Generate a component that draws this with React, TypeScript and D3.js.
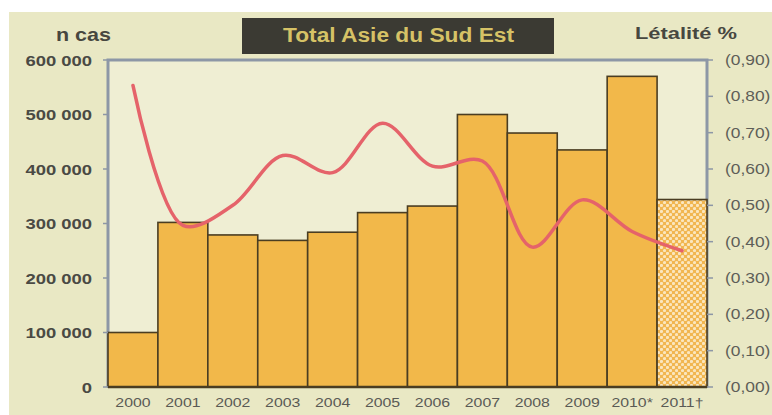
import React, { useEffect, useRef } from 'react';
import * as d3 from 'd3';

// data
const years = ['2000', '2001', '2002', '2003', '2004', '2005', '2006', '2007', '2008', '2009', '2010*', '2011†'];
const cases = [100000, 302000, 279000, 269000, 284000, 320000, 332000, 500000, 466000, 435000, 570000, 344000];
const lethality = [0.83, 0.445, 0.5, 0.637, 0.59, 0.726, 0.608, 0.622, 0.385, 0.515, 0.428, 0.375];
const caseTicks = [0, 100000, 200000, 300000, 400000, 500000, 600000];
const letTicks = [0, 0.1, 0.2, 0.3, 0.4, 0.5, 0.6, 0.7, 0.8, 0.9];

const W = 772;
const H = 415;
const left = 108, right = 707, top = 60, bottom = 387;
const font = 'Liberation Sans, Arial, sans-serif';

export default function App() {
  const node = useRef<SVGSVGElement | null>(null);

  useEffect(() => {
    const svg = d3.select(node.current);
    svg.selectAll('*').remove();

    const x = d3.scaleBand().domain(years).range([left, right]).padding(0);
    const y = d3.scaleLinear().domain([0, 600000]).range([bottom, top]);
    const y2 = d3.scaleLinear().domain([0, 0.9]).range([bottom, top]);

    // dotted pattern for the provisional year
    const defs = svg.append('defs');
    const pat = defs.append('pattern')
      .attr('id', 'dots')
      .attr('width', 6).attr('height', 6)
      .attr('patternUnits', 'userSpaceOnUse');
    pat.append('rect').attr('width', 6).attr('height', 6).attr('fill', '#f1b650');
    pat.append('circle').attr('cx', 1.5).attr('cy', 1.5).attr('r', 1.6).attr('fill', '#fbe6bd');
    pat.append('circle').attr('cx', 4.5).attr('cy', 4.5).attr('r', 1.6).attr('fill', '#fbe6bd');

    // backgrounds
    svg.append('rect').attr('x', 9).attr('y', 12).attr('width', W - 9).attr('height', H - 12).attr('fill', '#e9e8c4');
    svg.append('rect').attr('x', left).attr('y', top).attr('width', right - left).attr('height', bottom - top).attr('fill', '#efeed3');

    // title box
    svg.append('rect').attr('x', 242).attr('y', 18).attr('width', 312).attr('height', 36).attr('fill', '#3b3a33');
    svg.append('text').attr('x', 283).attr('y', 42)
      .attr('font-family', font).attr('font-size', 20).attr('font-weight', 'bold')
      .attr('textLength', 231).attr('lengthAdjust', 'spacingAndGlyphs')
      .attr('fill', '#d6c266').text('Total Asie du Sud Est');

    svg.append('text').attr('x', 56).attr('y', 41)
      .attr('font-family', font).attr('font-size', 19).attr('font-weight', 'bold')
      .attr('textLength', 55).attr('lengthAdjust', 'spacingAndGlyphs')
      .attr('fill', '#474740').text('n cas');
    svg.append('text').attr('x', 635).attr('y', 38.5)
      .attr('font-family', font).attr('font-size', 17).attr('font-weight', 'bold')
      .attr('textLength', 102).attr('lengthAdjust', 'spacingAndGlyphs')
      .attr('fill', '#474740').text('Létalité %');

    // frame: left, top, right in blue grey
    svg.append('path')
      .attr('d', `M${left},${bottom}V${top}H${right}V${bottom}`)
      .attr('fill', 'none').attr('stroke', '#8d97a6').attr('stroke-width', 3);

    // bars
    svg.selectAll('rect.bar').data(cases).enter().append('rect')
      .attr('class', 'bar')
      .attr('x', (d, i) => x(years[i]) as number)
      .attr('y', d => y(d))
      .attr('width', x.bandwidth())
      .attr('height', d => bottom - y(d))
      .attr('fill', (d, i) => i === years.length - 1 ? 'url(#dots)' : '#f2b84a')
      .attr('stroke', '#4a3d22')
      .attr('stroke-width', 1.6);

    // baseline
    svg.append('line').attr('x1', left).attr('x2', right).attr('y1', bottom).attr('y2', bottom)
      .attr('stroke', '#4a3d22').attr('stroke-width', 2.5);

    // left ticks + labels
    const gl = svg.append('g');
    gl.selectAll('line').data(caseTicks).enter().append('line')
      .attr('x1', left - 5).attr('x2', left).attr('y1', d => y(d)).attr('y2', d => y(d))
      .attr('stroke', '#8d97a6').attr('stroke-width', 1.5);
    gl.selectAll('text').data(caseTicks).enter().append('text')
      .attr('transform', d => `translate(92,${y(d) + 5.5}) scale(1.19,1)`)
      .attr('text-anchor', 'end')
      .attr('font-family', font).attr('font-size', 15.5).attr('font-weight', 'bold')
      .attr('fill', '#4a4a44')
      .text(d => d === 0 ? '0' : d3.format(',')(d).replace(/,/g, ' '));

    // right ticks + labels
    const gr = svg.append('g');
    gr.selectAll('line').data(letTicks).enter().append('line')
      .attr('x1', right).attr('x2', right + 6).attr('y1', d => y2(d)).attr('y2', d => y2(d))
      .attr('stroke', '#8d97a6').attr('stroke-width', 1.5);
    gr.selectAll('text').data(letTicks).enter().append('text')
      .attr('transform', d => `translate(725,${y2(d) + 5}) scale(1.2,1)`)
      .attr('font-family', font).attr('font-size', 14.5)
      .attr('fill', '#5e5e58')
      .text(d => '(' + d.toFixed(2).replace('.', ',') + ')');

    // x labels
    svg.append('g').selectAll('text').data(years).enter().append('text')
      .attr('transform', d => `translate(${(x(d) as number) + x.bandwidth() / 2},407) scale(1.22,1)`)
      .attr('text-anchor', 'middle')
      .attr('font-family', font).attr('font-size', 13)
      .attr('fill', '#5a5a55')
      .text(d => d);

    // lethality line
    const line = d3.line<number>()
      .x((d, i) => (x(years[i]) as number) + x.bandwidth() / 2)
      .y(d => y2(d))
      .curve(d3.curveCatmullRom.alpha(0.5));
    svg.append('path')
      .attr('d', line(lethality))
      .attr('fill', 'none')
      .attr('stroke', '#e5636a')
      .attr('stroke-width', 3.5)
      .attr('stroke-linecap', 'round');
  }, []);

  return (
    <svg ref={node} width={W} height={H}
      style={{ position: 'absolute', left: 0, top: 0, background: '#ffffff' }} />
  );
}
